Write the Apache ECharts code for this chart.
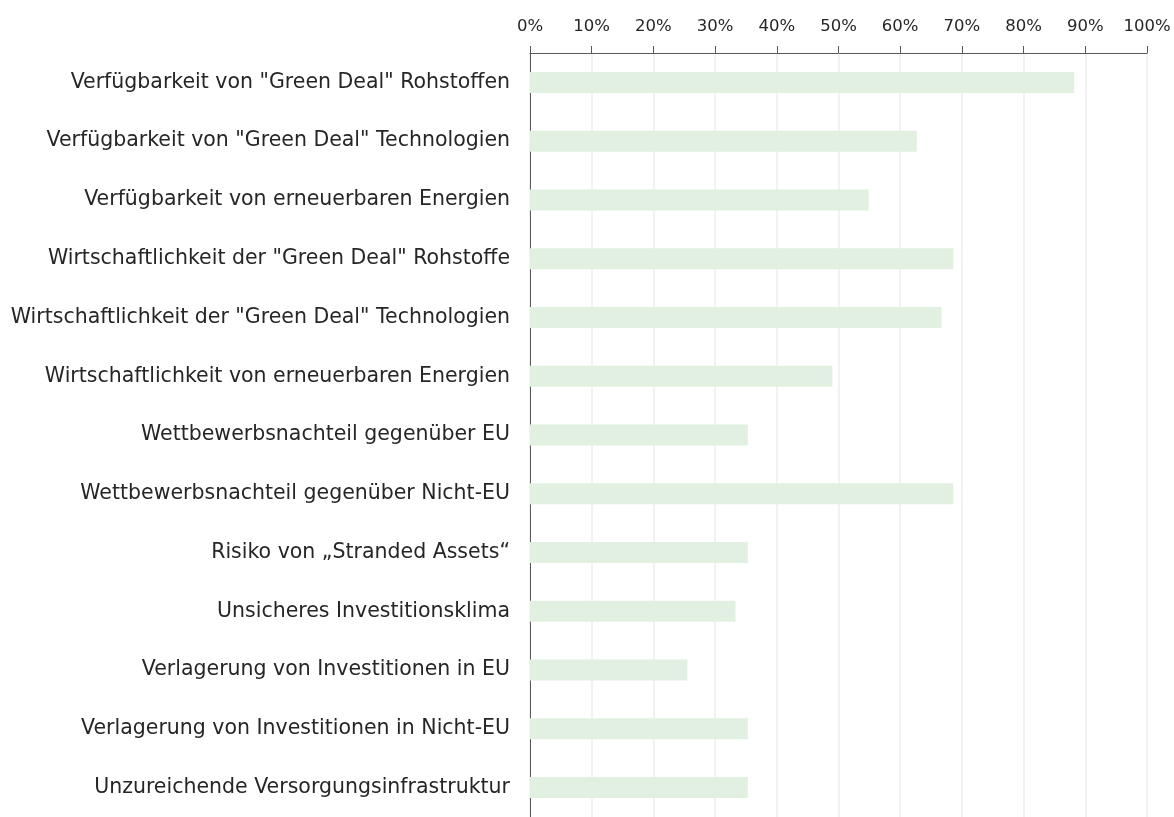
<!DOCTYPE html>
<html>
<head>
<meta charset="utf-8">
<script src="https://cdn.jsdelivr.net/npm/echarts@6/dist/echarts.min.js"></script>
<style>
html,body{margin:0;padding:0;background:#fff;}
#chart{width:1174px;height:817px;}
</style>
</head>
<body>
<div id="chart"></div>
<script>
const categories = [
  'Verfügbarkeit von "Green Deal" Rohstoffen',
  'Verfügbarkeit von "Green Deal" Technologien',
  'Verfügbarkeit von erneuerbaren Energien',
  'Wirtschaftlichkeit der "Green Deal" Rohstoffe',
  'Wirtschaftlichkeit der "Green Deal" Technologien',
  'Wirtschaftlichkeit von erneuerbaren Energien',
  'Wettbewerbsnachteil gegenüber EU',
  'Wettbewerbsnachteil gegenüber Nicht-EU',
  'Risiko von „Stranded Assets“',
  'Unsicheres Investitionsklima',
  'Verlagerung von Investitionen in EU',
  'Verlagerung von Investitionen in Nicht-EU',
  'Unzureichende Versorgungsinfrastruktur'
];
const values = [88.2, 62.7, 54.9, 68.6, 66.7, 49.0, 35.3, 68.6, 35.3, 33.3, 25.5, 35.3, 35.3];
const xTicks = { min: 0, max: 100, interval: 10 };

const chart = echarts.init(document.getElementById('chart'), null, { renderer: 'canvas' });
chart.setOption({
  animation: false,
  backgroundColor: '#ffffff',
  grid: { left: 530, top: 53, width: 617, height: 771, containLabel: false },
  xAxis: {
    type: 'value',
    position: 'top',
    min: xTicks.min, max: xTicks.max, interval: xTicks.interval,
    axisLine: { show: true, lineStyle: { color: '#595959', width: 1 } },
    axisTick: { show: true, length: 7, lineStyle: { color: '#595959', width: 1 } },
    axisLabel: { formatter: '{value}%', color: '#262626', fontFamily: 'DejaVu Sans', fontSize: 16.5, margin: 18 },
    splitLine: { show: true, lineStyle: { color: '#eeeeee', width: 1.5 } }
  },
  yAxis: {
    type: 'category',
    inverse: true,
    data: categories,
    axisLine: { show: true, lineStyle: { color: '#595959', width: 1 } },
    axisTick: { show: false },
    axisLabel: { color: '#262626', fontFamily: 'DejaVu Sans', fontSize: 20.5, margin: 20 },
    splitLine: { show: false }
  },
  series: [{
    type: 'bar',
    data: values,
    barWidth: 21,
    itemStyle: { color: '#e2f0e1' }
  }]
});
</script>
</body>
</html>
